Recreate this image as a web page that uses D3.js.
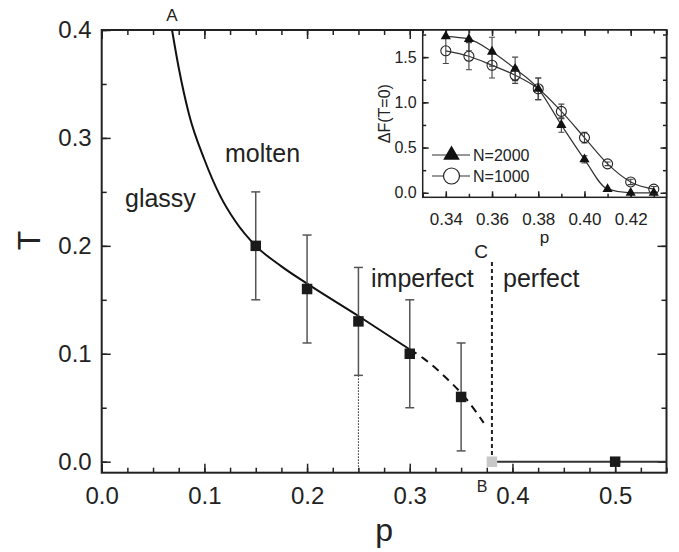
<!DOCTYPE html>
<html>
<head>
<meta charset="utf-8">
<script src="https://cdn.jsdelivr.net/npm/d3@7"></script>
<style>
  body { margin: 0; background: #fff; }
  svg text { font-family: "Liberation Sans", Arial, sans-serif; fill: #222; }
</style>
</head>
<body>
<svg id="chart" width="679" height="552"></svg>
<script>
// ---- main panel data ----
var simP   = [0.15, 0.2, 0.25, 0.3, 0.35, 0.5];
var simT   = [0.2, 0.16, 0.13, 0.1, 0.06, 0.0];
var simErr = [0.05, 0.05, 0.05, 0.05, 0.05, 0];
var pointB = [0.38, 0.0];

// transition line A -> B (solid, then dashed extrapolation)
var solidP = [0.0685, 0.075, 0.085, 0.1, 0.115, 0.13, 0.15, 0.175, 0.2, 0.25, 0.3];
var solidT = [0.4, 0.365, 0.322, 0.28, 0.247, 0.223, 0.2, 0.181, 0.165, 0.135, 0.104];
var dashP  = [0.3, 0.313, 0.335, 0.356, 0.372];
var dashT  = [0.104, 0.096, 0.078, 0.057, 0.036];

var xTicks = [0.0, 0.1, 0.2, 0.3, 0.4, 0.5];
var yTicks = [0.0, 0.1, 0.2, 0.3, 0.4];

// ---- inset data ----
var insetP  = [0.34, 0.35, 0.36, 0.37, 0.38, 0.39, 0.40, 0.41, 0.42, 0.43];
var dF2000  = [1.73, 1.70, 1.56, 1.37, 1.15, 0.75, 0.37, 0.04, 0.0, 0.0];
var err2000 = [0.0, 0.13, 0.16, 0.13, 0.12, 0.08, 0.04, 0.0, 0.0, 0.0];
var dF1000  = [1.57, 1.51, 1.41, 1.30, 1.15, 0.90, 0.61, 0.32, 0.12, 0.04];
var err1000 = [0.14, 0.15, 0.14, 0.09, 0.12, 0.08, 0.06, 0.02, 0.03, 0.03];
var insetXTicks = [0.34, 0.36, 0.38, 0.40, 0.42];
var insetYTicks = [0.0, 0.5, 1.0, 1.5];

var svg = d3.select("#chart");
var FONT = '"Liberation Sans", Arial, sans-serif';

var x = d3.scaleLinear().domain([0, 0.55]).range([101.7, 666.5]);
var y = d3.scaleLinear().domain([-0.0102, 0.4]).range([472.7, 30]);

function axisGroup(parent, tx, ty, axis, fs) {
  var g = parent.append("g")
    .attr("transform", "translate(" + tx + "," + ty + ")")
    .call(axis);
  g.attr("font-size", fs || 10).attr("font-family", FONT);
  g.select(".domain").remove();
  g.selectAll(".tick line").attr("stroke", "#222").attr("stroke-width", 1.5);
  g.selectAll(".tick text").attr("fill", "#222");
  return g;
}

var xMinor = d3.range(0, 0.5501, 0.025);
var yMinor = d3.range(0, 0.4001, 0.05);
var f1 = d3.format(".1f");

// main axes, ticks point inward on all four sides
axisGroup(svg, 0, 472.7, d3.axisBottom(x).tickValues(xMinor).tickSize(-5).tickFormat(""));
axisGroup(svg, 0, 472.7, d3.axisBottom(x).tickValues(xTicks).tickSize(-9).tickPadding(14).tickFormat(f1), 24);
axisGroup(svg, 0, 30, d3.axisTop(x).tickValues(xMinor).tickSize(-5).tickFormat(""));
axisGroup(svg, 0, 30, d3.axisTop(x).tickValues(xTicks).tickSize(-9).tickFormat(""));
axisGroup(svg, 101.7, 0, d3.axisLeft(y).tickValues(yMinor).tickSize(-5).tickFormat(""));
axisGroup(svg, 101.7, 0, d3.axisLeft(y).tickValues(yTicks).tickSize(-9).tickPadding(10).tickFormat(f1), 24);
axisGroup(svg, 666.5, 0, d3.axisRight(y).tickValues(yMinor).tickSize(-5).tickFormat(""));
axisGroup(svg, 666.5, 0, d3.axisRight(y).tickValues(yTicks).tickSize(-9).tickFormat(""));

svg.append("rect")
  .attr("x", x(0)).attr("y", y(0.4))
  .attr("width", x(0.55) - x(0)).attr("height", y(-0.0102) - y(0.4))
  .attr("fill", "none").attr("stroke", "#222").attr("stroke-width", 2);

// axis titles
svg.append("text").attr("x", (x(0) + x(0.55)) / 2).attr("y", 541)
  .attr("text-anchor", "middle").attr("font-size", 32).text("p");
svg.append("text").attr("transform", "translate(40," + y(0.205) + ") rotate(-90)")
  .attr("text-anchor", "middle").attr("font-size", 32).text("T");

var line = d3.line().x(function(d) { return x(d[0]); }).y(function(d) { return y(d[1]); })
  .curve(d3.curveMonotoneX);

// dotted guide at p=0.25
svg.append("line")
  .attr("x1", x(0.25)).attr("x2", x(0.25))
  .attr("y1", y(0.08)).attr("y2", y(-0.0102))
  .attr("stroke", "#222").attr("stroke-width", 1).attr("stroke-dasharray", "1.5,1.5");

// C -> B dashed boundary
svg.append("line")
  .attr("x1", x(pointB[0])).attr("x2", x(pointB[0]))
  .attr("y1", y(0.185)).attr("y2", y(0.004))
  .attr("stroke", "#222").attr("stroke-width", 2).attr("stroke-dasharray", "4,3");

// T=0 line in perfect phase
svg.append("line")
  .attr("x1", x(pointB[0])).attr("x2", x(0.55))
  .attr("y1", y(0)).attr("y2", y(0))
  .attr("stroke", "#333").attr("stroke-width", 2);

svg.append("path").datum(d3.zip(solidP, solidT))
  .attr("d", line).attr("fill", "none").attr("stroke", "#111").attr("stroke-width", 2);
svg.append("path").datum(d3.zip(dashP, dashT))
  .attr("d", line).attr("fill", "none").attr("stroke", "#111").attr("stroke-width", 2)
  .attr("stroke-dasharray", "8,6");

// error bars
var sim = d3.zip(simP, simT, simErr);
var eb = svg.append("g").attr("stroke", "#555").attr("stroke-width", 1.5);
sim.filter(function(d) { return d[2] > 0; }).forEach(function(d) {
  var cx = x(d[0]);
  eb.append("line").attr("x1", cx).attr("x2", cx).attr("y1", y(d[1] - d[2])).attr("y2", y(d[1] + d[2]));
  eb.append("line").attr("x1", cx - 4.5).attr("x2", cx + 4.5).attr("y1", y(d[1] - d[2])).attr("y2", y(d[1] - d[2]));
  eb.append("line").attr("x1", cx - 4.5).attr("x2", cx + 4.5).attr("y1", y(d[1] + d[2])).attr("y2", y(d[1] + d[2]));
});

var sq = d3.symbol().type(d3.symbolSquare).size(110);
svg.selectAll(".sim").data(sim).enter().append("path")
  .attr("transform", function(d) { return "translate(" + x(d[0]) + "," + y(d[1]) + ")"; })
  .attr("d", sq).attr("fill", "#1a1a1a");
svg.append("path")
  .attr("transform", "translate(" + x(pointB[0]) + "," + y(pointB[1]) + ")")
  .attr("d", sq).attr("fill", "#c8c8c8");

// region labels
var labels = [
  ["molten", 225, 162, 25, "start"],
  ["glassy", 125, 207, 25, "start"],
  ["imperfect", 371, 287, 25, "start"],
  ["perfect", 503, 287, 25, "start"],
  ["A", 172, 21, 17, "middle"],
  ["B", 482, 492, 16, "middle"],
  ["C", 481, 258, 19, "middle"]
];
labels.forEach(function(l) {
  svg.append("text").attr("x", l[1]).attr("y", l[2]).attr("font-size", l[3])
    .attr("text-anchor", l[4]).text(l[0]);
});

// ---- inset ----
var ix = d3.scaleLinear().domain([0.33, 0.4355]).range([422.7, 666.5]);
var iy = d3.scaleLinear().domain([-0.05, 1.8]).range([197.3, 30]);
var inset = svg.append("g");

inset.append("rect")
  .attr("x", ix(0.33)).attr("y", iy(1.8))
  .attr("width", ix(0.4355) - ix(0.33)).attr("height", iy(-0.05) - iy(1.8))
  .attr("fill", "#fff");
inset.append("clipPath").attr("id", "insetClip").append("rect")
  .attr("x", ix(0.33)).attr("y", iy(1.8))
  .attr("width", ix(0.4355) - ix(0.33)).attr("height", iy(-0.05) - iy(1.8));

var ixMinor = d3.range(0.33, 0.4351, 0.01);
var iyMinor = d3.range(0, 1.751, 0.25);
var f2 = d3.format(".2f");
axisGroup(inset, 0, 197.3, d3.axisBottom(ix).tickValues(ixMinor).tickSize(-3.5).tickFormat(""));
axisGroup(inset, 0, 197.3, d3.axisBottom(ix).tickValues(insetXTicks).tickSize(-6).tickPadding(16).tickFormat(f2), 17);
axisGroup(inset, 0, 30, d3.axisTop(ix).tickValues(ixMinor).tickSize(-3.5).tickFormat(""));
axisGroup(inset, 0, 30, d3.axisTop(ix).tickValues(insetXTicks).tickSize(-6).tickFormat(""));
axisGroup(inset, 422.7, 0, d3.axisLeft(iy).tickValues(iyMinor).tickSize(-3.5).tickFormat(""));
axisGroup(inset, 422.7, 0, d3.axisLeft(iy).tickValues(insetYTicks).tickSize(-6).tickPadding(6).tickFormat(f1), 16);
axisGroup(inset, 666.5, 0, d3.axisRight(iy).tickValues(iyMinor).tickSize(-3.5).tickFormat(""));
axisGroup(inset, 666.5, 0, d3.axisRight(iy).tickValues(insetYTicks).tickSize(-6).tickFormat(""));

inset.append("text").attr("x", (ix(0.33) + ix(0.4355)) / 2).attr("y", 243)
  .attr("text-anchor", "middle").attr("font-size", 17).text("p");
inset.append("text").attr("transform", "translate(390," + ((iy(1.8) + iy(-0.05)) / 2) + ") rotate(-90)")
  .attr("text-anchor", "middle").attr("font-size", 16).text("ΔF(T=0)");

var iline = d3.line().x(function(d) { return ix(d[0]); }).y(function(d) { return iy(d[1]); })
  .curve(d3.curveMonotoneX);
var plot = inset.append("g").attr("clip-path", "url(#insetClip)");

var s2000 = d3.zip(insetP, dF2000, err2000);
var s1000 = d3.zip(insetP, dF1000, err1000);

plot.append("path").datum(s2000).attr("d", iline)
  .attr("fill", "none").attr("stroke", "#333").attr("stroke-width", 1.2);
plot.append("path").datum(s1000).attr("d", iline)
  .attr("fill", "none").attr("stroke", "#333").attr("stroke-width", 1.2);

var ieb = plot.append("g").attr("stroke", "#444").attr("stroke-width", 1.1);
s2000.concat(s1000).filter(function(d) { return d[2] > 0; }).forEach(function(d) {
  var cx = ix(d[0]);
  ieb.append("line").attr("x1", cx).attr("x2", cx).attr("y1", iy(d[1] - d[2])).attr("y2", iy(d[1] + d[2]));
  ieb.append("line").attr("x1", cx - 3).attr("x2", cx + 3).attr("y1", iy(d[1] - d[2])).attr("y2", iy(d[1] - d[2]));
  ieb.append("line").attr("x1", cx - 3).attr("x2", cx + 3).attr("y1", iy(d[1] + d[2])).attr("y2", iy(d[1] + d[2]));
});

var tri = d3.symbol().type(d3.symbolTriangle).size(45);
plot.selectAll(".tri").data(s2000).enter().append("path")
  .attr("transform", function(d) { return "translate(" + ix(d[0]) + "," + iy(d[1]) + ")"; })
  .attr("d", tri).attr("fill", "#111");
plot.selectAll(".circ").data(s1000).enter().append("circle")
  .attr("cx", function(d) { return ix(d[0]); }).attr("cy", function(d) { return iy(d[1]); })
  .attr("r", 5).attr("fill", "none").attr("stroke", "#222").attr("stroke-width", 1.1);

// legend
var legend = [["N=2000", 155, "tri"], ["N=1000", 176, "circ"]];
legend.forEach(function(l) {
  inset.append("line").attr("x1", 432).attr("x2", 470).attr("y1", l[1]).attr("y2", l[1])
    .attr("stroke", "#333").attr("stroke-width", 1.2);
  if (l[2] == "tri") {
    inset.append("path").attr("transform", "translate(451.5," + l[1] + ")")
      .attr("d", d3.symbol().type(d3.symbolTriangle).size(120)).attr("fill", "#111");
  } else {
    inset.append("circle").attr("cx", 451.5).attr("cy", l[1]).attr("r", 8)
      .attr("fill", "#fff").attr("stroke", "#222").attr("stroke-width", 1.2);
  }
  inset.append("text").attr("x", 473).attr("y", l[1] + 6).attr("font-size", 16).text(l[0]);
});

inset.append("rect")
  .attr("x", ix(0.33)).attr("y", iy(1.8))
  .attr("width", ix(0.4355) - ix(0.33)).attr("height", iy(-0.05) - iy(1.8))
  .attr("fill", "none").attr("stroke", "#222").attr("stroke-width", 1.5);
</script>
</body>
</html>
